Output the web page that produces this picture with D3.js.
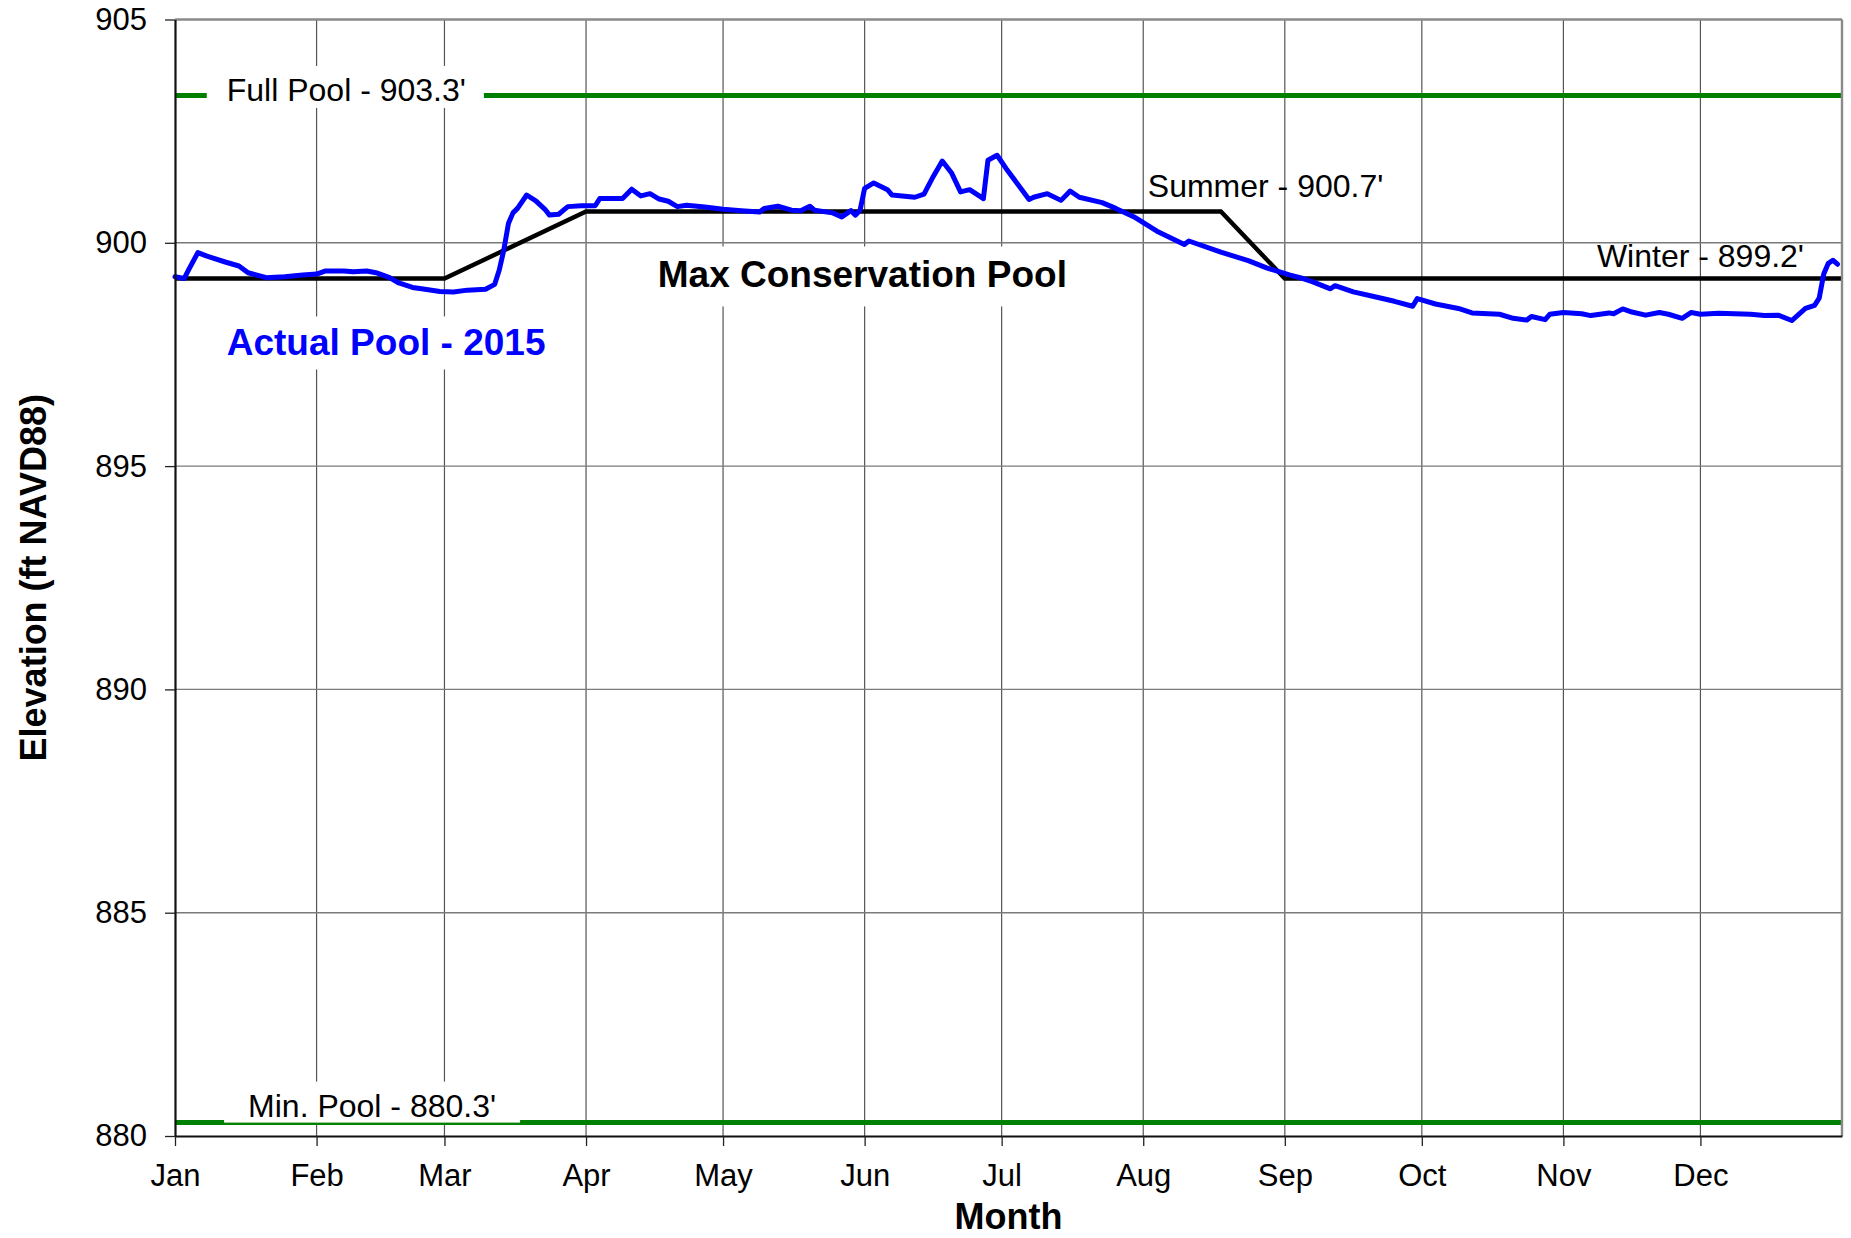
<!DOCTYPE html>
<html>
<head>
<meta charset="utf-8">
<script src="https://cdn.jsdelivr.net/npm/d3@7"></script>
<style>
  body { margin: 0; background: #fff; }
  svg { display: block; font-family: "Liberation Sans", Arial, sans-serif; }
</style>
</head>
<body>
<svg id="chart" width="1851" height="1238"></svg>
<script>
// axis ticks
var yTicks = [880, 885, 890, 895, 900, 905];
var monthLabels = ["Jan", "Feb", "Mar", "Apr", "May", "Jun", "Jul", "Aug", "Sep", "Oct", "Nov", "Dec"];

// reference pools (ft NAVD88)
var fullPool = 903.3;
var minPool = 880.3;
var summerPool = 900.7;
var winterPool = 899.2;

// max conservation pool rule curve
var ruleDates = ["2015-01-01", "2015-03-01", "2015-04-01", "2015-08-18", "2015-09-01", "2016-01-01"];
var ruleLevels = [899.2, 899.2, 900.7, 900.7, 899.2, 899.2];

// actual pool 2015
var poolDates = [
  "01-01","01-03","01-04","01-06","01-08","01-12","01-15","01-17","01-21","01-25","01-29",
  "02-01","02-03","02-07","02-09","02-12","02-14","02-17","02-19","02-22","02-24","02-28",
  "03-03","03-06","03-10","03-12","03-13","03-14","03-15","03-16","03-17","03-19","03-21","03-23","03-24","03-26","03-28","03-31",
  "04-03","04-04","04-09","04-11","04-13","04-15","04-17","04-19","04-21","04-23","04-27",
  "05-01","05-05","05-09","05-10","05-13","05-16","05-18","05-20","05-21","05-25","05-27","05-29","05-30","05-31",
  "06-01","06-03","06-06","06-07","06-12","06-14","06-16","06-18","06-20","06-22","06-24","06-27","06-28","06-30",
  "07-02","07-07","07-08","07-11","07-14","07-16","07-18","07-23","07-26","07-30",
  "08-04","08-10","08-11","08-18","08-24","08-28",
  "09-02","09-05","09-07","09-11","09-12","09-16","09-20","09-25","09-29","09-30",
  "10-04","10-09","10-12","10-18","10-21","10-24","10-25","10-28","10-29",
  "11-01","11-05","11-07","11-11","11-12","11-14","11-16","11-19","11-22","11-24","11-27","11-29",
  "12-01","12-05","12-12","12-15","12-18","12-21","12-24","12-26","12-27","12-28","12-29","12-30","12-31"
];
var poolLevels = [
  899.24,899.20,899.40,899.78,899.70,899.57,899.48,899.33,899.22,899.24,899.28,
  899.30,899.37,899.37,899.35,899.37,899.33,899.22,899.10,899.00,898.97,898.91,
  898.90,898.94,898.96,899.07,899.39,899.84,900.43,900.67,900.77,901.07,900.94,900.75,900.62,900.64,900.81,900.83,
  900.83,900.99,900.99,901.20,901.05,901.10,900.98,900.93,900.81,900.84,900.80,
  900.75,900.72,900.69,900.77,900.82,900.73,900.72,900.82,900.73,900.67,900.58,900.72,900.62,900.73,
  901.22,901.34,901.19,901.07,901.02,901.09,901.48,901.83,901.57,901.14,901.19,900.99,901.85,901.96,
  901.66,900.97,901.02,901.10,900.95,901.16,901.02,900.90,900.77,900.58,
  900.26,899.96,900.04,899.79,899.60,899.44,
  899.28,899.20,899.13,898.97,899.04,898.90,898.81,898.69,898.58,898.75,
  898.63,898.53,898.43,898.40,898.31,898.27,898.35,898.28,898.40,
  898.44,898.41,898.37,898.43,898.41,898.52,898.45,898.38,898.44,898.40,898.31,898.44,
  898.40,898.42,898.40,898.37,898.38,898.26,898.53,898.60,898.76,899.30,899.54,899.61,899.52
];

var margin = {top: 19.5, right: 9, bottom: 102, left: 175};
var width = 1851 - margin.left - margin.right;
var height = 1238 - margin.top - margin.bottom;

var parse = d3.timeParse("%Y-%m-%d");
var yearStart = new Date(2015, 0, 1), yearEnd = new Date(2016, 0, 1);

var x = d3.scaleTime().domain([yearStart, yearEnd]).range([0, width]);
var y = d3.scaleLinear().domain([880, 905]).range([height, 0]);

var svg = d3.select("#chart");
var g = svg.append("g").attr("transform", "translate(" + margin.left + "," + margin.top + ")");

var monthStarts = d3.timeMonth.range(yearStart, yearEnd);

// gridlines
g.append("g").selectAll("line")
  .data(monthStarts.slice(1))
  .enter().append("line")
  .attr("x1", function(d){ return x(d); })
  .attr("x2", function(d){ return x(d); })
  .attr("y1", 0).attr("y2", height)
  .attr("stroke", "#555").attr("stroke-width", 1.2);
g.append("g").selectAll("line")
  .data(yTicks.filter(function(d){ return d > 880 && d < 905; }))
  .enter().append("line")
  .attr("x1", 0).attr("x2", width)
  .attr("y1", function(d){ return y(d); })
  .attr("y2", function(d){ return y(d); })
  .attr("stroke", "#7a7a7a").attr("stroke-width", 1.4);

// full / min pool lines
[fullPool, minPool].forEach(function(v){
  g.append("line")
    .attr("x1", 0).attr("x2", width)
    .attr("y1", y(v)).attr("y2", y(v))
    .attr("stroke", "#008000").attr("stroke-width", 5);
});

// labels, optionally on a white box: pad = [top, right, bottom, left]
function boxedLabel(text, px, py, size, weight, color, anchor, pad){
  var lg = g.append("g");
  var t = lg.append("text")
    .attr("x", px).attr("y", py)
    .attr("font-size", size).attr("font-weight", weight)
    .attr("fill", color).attr("text-anchor", anchor)
    .text(text);
  if (pad) {
    var b = t.node().getBBox();
    lg.insert("rect", "text")
      .attr("x", b.x - pad[3]).attr("y", b.y - pad[0])
      .attr("width", b.width + pad[1] + pad[3])
      .attr("height", b.height + pad[0] + pad[2])
      .attr("fill", "#fff");
  }
  return lg;
}

boxedLabel("Full Pool - 903.3'", x(new Date(2015, 0, 12, 8)), y(fullPool) + 5.5, 32, "normal", "#000", "start", [6, 18, 0, 20]);
boxedLabel("Min. Pool - 880.3'", x(new Date(2015, 0, 17)), y(minPool) - 6, 32, "normal", "#000", "start", [6, 24, -1, 24]);
boxedLabel("Actual Pool - 2015", x(new Date(2015, 0, 12, 8)), y(897.5) + 1, 37, "bold", "#0000ff", "start", [6, 20, 6, 20]);
boxedLabel("Max Conservation Pool", x(new Date(2015, 4, 31, 12)), y(899.0), 37, "bold", "#000", "middle", [8, 20, 11, 20]);

// rule curve
var ruleData = ruleDates.map(function(d, i){ return {date: parse(d), value: ruleLevels[i]}; });
var line = d3.line().x(function(d){ return x(d.date); }).y(function(d){ return y(d.value); });
g.append("path").datum(ruleData)
  .attr("d", line)
  .attr("fill", "none").attr("stroke", "#000").attr("stroke-width", 4.4)
  .attr("stroke-linejoin", "miter");

boxedLabel("Summer - 900.7'", x(new Date(2015, 7, 2)), y(summerPool) - 14.6, 32, "normal", "#000", "start", null);
boxedLabel("Winter - 899.2'", x(new Date(2015, 10, 8, 8)), y(winterPool) - 11.6, 32, "normal", "#000", "start", null);

// actual pool
var poolData = poolDates.map(function(d, i){ return {date: parse("2015-" + d), value: poolLevels[i]}; });
g.append("path").datum(poolData)
  .attr("d", line)
  .attr("fill", "none").attr("stroke", "#0000ff").attr("stroke-width", 5)
  .attr("stroke-linejoin", "round").attr("stroke-linecap", "round");

// frame
g.append("line").attr("x1", 0).attr("x2", width).attr("y1", 0).attr("y2", 0)
  .attr("stroke", "#8a8a8a").attr("stroke-width", 2.4);
g.append("line").attr("x1", width).attr("x2", width).attr("y1", 0).attr("y2", height)
  .attr("stroke", "#8a8a8a").attr("stroke-width", 2.4);

// axes
var xAxis = d3.axisBottom(x)
  .tickValues(monthStarts)
  .tickSizeInner(10).tickSizeOuter(0).tickPadding(18)
  .tickFormat(function(d, i){ return monthLabels[i]; });
var gx = g.append("g").attr("transform", "translate(0," + height + ")").call(xAxis);

var yAxis = d3.axisLeft(y)
  .tickValues(yTicks)
  .tickSizeInner(10).tickSizeOuter(0).tickPadding(18)
  .tickFormat(d3.format("d"));
var gy = g.append("g").call(yAxis);

[gx, gy].forEach(function(a){
  a.select(".domain").attr("stroke", "#111").attr("stroke-width", 2.2);
  a.selectAll(".tick line").attr("stroke", "#222").attr("stroke-width", 1.3);
  a.selectAll(".tick text").attr("font-size", 31).attr("fill", "#000")
    .attr("font-family", "'Liberation Sans', Arial, sans-serif");
});

// axis titles
svg.append("text")
  .attr("x", margin.left + width / 2).attr("y", 1229)
  .attr("text-anchor", "middle").attr("font-size", 36).attr("font-weight", "bold")
  .text("Month");
svg.append("text")
  .attr("transform", "translate(46," + (margin.top + height / 2) + ") rotate(-90)")
  .attr("text-anchor", "middle").attr("font-size", 36).attr("font-weight", "bold")
  .text("Elevation (ft NAVD88)");
</script>
</body>
</html>
